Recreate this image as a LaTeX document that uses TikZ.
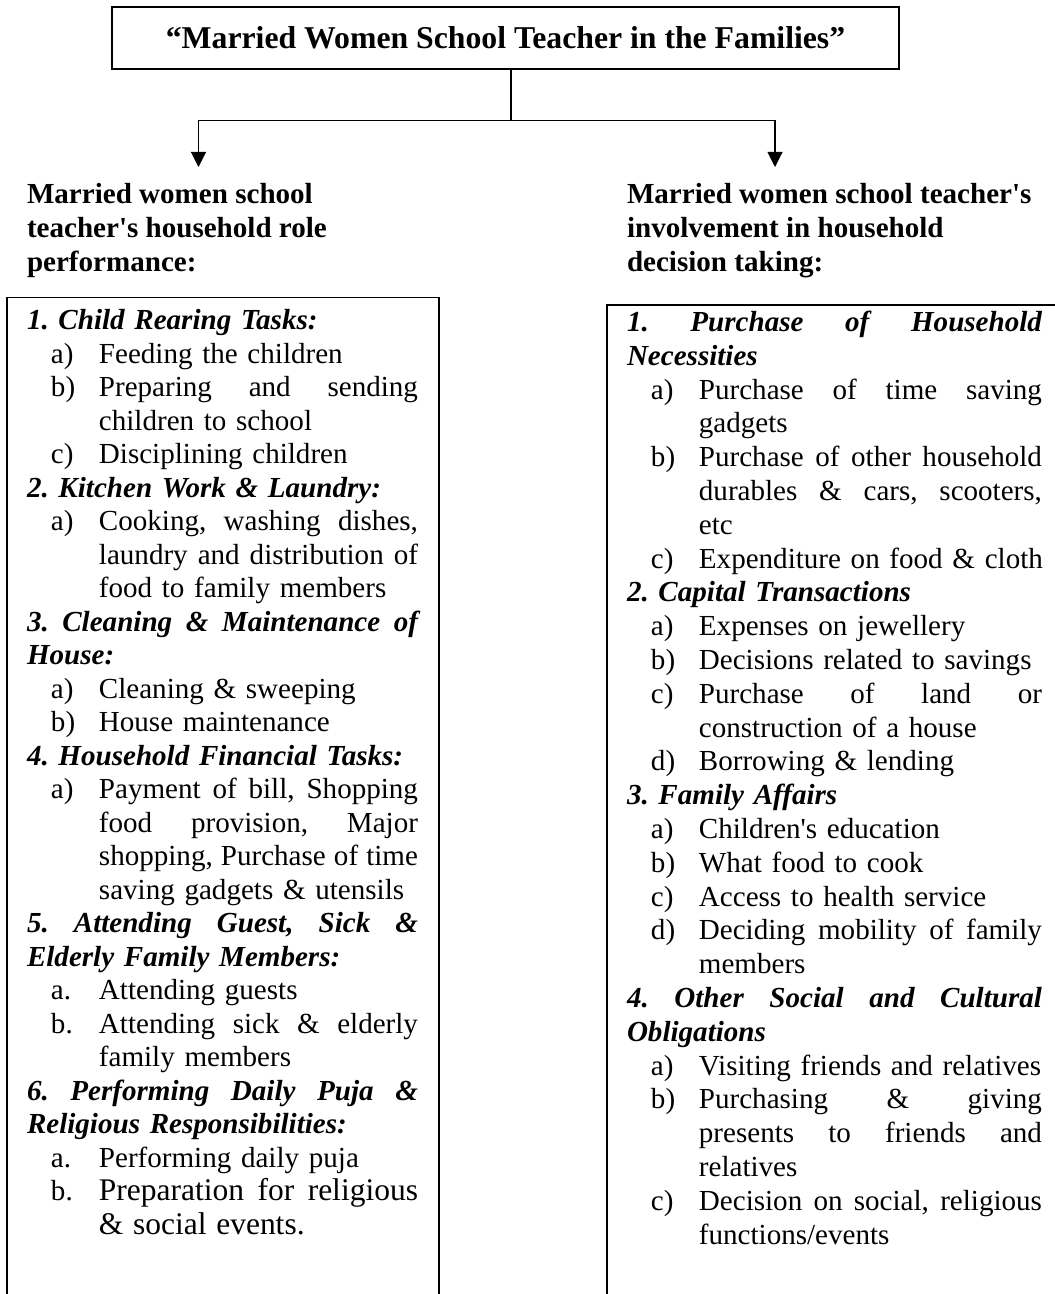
\documentclass[tikz,border=0pt]{standalone}
\usepackage{fontspec}
\setmainfont{Liberation Serif}
\usetikzlibrary{arrows.meta}
\frenchspacing

\newcommand{\hd}[1]{\textbf{\textit{#1}}}
\newcommand{\jh}[1]{\leavevmode{\bfseries\itshape\spaceskip=\fontdimen2\font plus 1fil\relax
  \hbox to\hsize{#1}}}
\newcommand{\lab}[1]{\hspace*{9.9pt}\makebox[19.8pt][l]{#1}}
\newcommand{\cont}{\hspace*{29.7pt}}
\newcommand{\js}[1]{\leavevmode{\spaceskip=\fontdimen2\font plus 1fil\relax
  \hbox to\dimexpr\hsize-29.7pt\relax{#1}}}

\begin{document}
\begin{tikzpicture}[x=0.4128pt, y=-0.4128pt,
  every node/.style = {inner sep=0pt, outer sep=0pt},
  frame/.style = {line width=0.7pt},
  arr/.style = {line width=0.45pt, -{Triangle[length=6.2pt, width=6.2pt]}},
  hdtext/.style = {anchor=base west, align=left,
    font=\bfseries\fontsize{12pt}{13.95pt}\selectfont},
  listtext/.style = {anchor=base west, align=left,
    font=\fontsize{12pt}{13.83pt}\selectfont}]
  \useasboundingbox (0,0) rectangle (1055,1294);
  \clip (0,0) rectangle (1055,1294);

  \node[draw, line width=0.83pt, minimum width=324.9pt, minimum height=25.6pt,
    font=\bfseries\fontsize{13.1pt}{15pt}\selectfont] (title) at (505.5,38)
    {“Married Women School Teacher in the Families”};

  \coordinate (split) at (511,120.7);
  \coordinate (ltip) at (198.5,167);
  \coordinate (rtip) at (775,167);
  \draw[line width=0.45pt] (title.south -| split) -- (split);
  \draw[arr] (split) -| (ltip);
  \draw[arr] (split) -| (rtip);

  % base of these nodes is their last line
  \node[hdtext] (rolehd) at (27,271.5)
    {Married women school\\teacher\textquotesingle s household role\\performance:};
  \node[hdtext] (dechd) at (627,271.5)
    {Married women school teacher\textquotesingle s\\involvement in household\\decision taking:};

  \draw[frame] (7,1310) |- (439,297.5) -- (439,1310);
  \draw[frame] (607,1310) |- (1070,305);

  \node[listtext, text width=161.4pt] (roles) at (27,329.5) {%
    \hd{1. Child Rearing Tasks:}\\
    \lab{a)}Feeding the children\\
    \lab{b)}\js{Preparing and sending}\\
    \cont children to school\\
    \lab{c)}Disciplining children\\
    \hd{2. Kitchen Work \& Laundry:}\\
    \lab{a)}\js{Cooking, washing dishes,}\\
    \cont\js{laundry and distribution of}\\
    \cont food to family members\\
    \jh{3. Cleaning \& Maintenance of}\\
    \hd{House:}\\
    \lab{a)}Cleaning \& sweeping\\
    \lab{b)}House maintenance\\
    \hd{4. Household Financial Tasks:}\\
    \lab{a)}\js{Payment of bill, Shopping}\\
    \cont\js{food provision, Major}\\
    \cont\js{shopping, Purchase of time}\\
    \cont saving gadgets \& utensils\\
    \jh{5. Attending Guest, Sick \&}\\
    \hd{Elderly Family Members:}\\
    \lab{a.}Attending guests\\
    \lab{b.}\js{Attending sick \& elderly}\\
    \cont family members\\
    \jh{6. Performing Daily Puja \&}\\
    \hd{Religious Responsibilities:}\\
    \lab{a.}Performing daily puja\\
    \lab{b.}{\fontsize{13pt}{13.83pt}\selectfont\js{Preparation for religious}}\\
    \cont{\fontsize{13pt}{13.83pt}\selectfont \& social events.}};

  \node[listtext, text width=171.3pt, font=\fontsize{12pt}{13.95pt}\selectfont]
    (decisions) at (627,331.6) {%
    \jh{1. Purchase of Household}\\
    \hd{Necessities}\\
    \lab{a)}\js{Purchase of time saving}\\
    \cont gadgets\\
    \lab{b)}\js{Purchase of other household}\\
    \cont\js{durables \& cars, scooters,}\\
    \cont etc\\
    \lab{c)}\mbox{Expenditure on food \& cloth}\\
    \hd{2. Capital Transactions}\\
    \lab{a)}Expenses on jewellery\\
    \lab{b)}\mbox{Decisions related to savings}\\
    \lab{c)}\js{Purchase of land or}\\
    \cont construction of a house\\
    \lab{d)}Borrowing \& lending\\
    \hd{3. Family Affairs}\\
    \lab{a)}Children\textquotesingle s education\\
    \lab{b)}What food to cook\\
    \lab{c)}Access to health service\\
    \lab{d)}\js{Deciding mobility of family}\\
    \cont members\\
    \jh{4. Other Social and Cultural}\\
    \hd{Obligations}\\
    \lab{a)}\mbox{Visiting friends and relatives}\\
    \lab{b)}\js{Purchasing \& giving}\\
    \cont\js{presents to friends and}\\
    \cont relatives\\
    \lab{c)}\js{Decision on social, religious}\\
    \cont functions/events};
\end{tikzpicture}
\end{document}
